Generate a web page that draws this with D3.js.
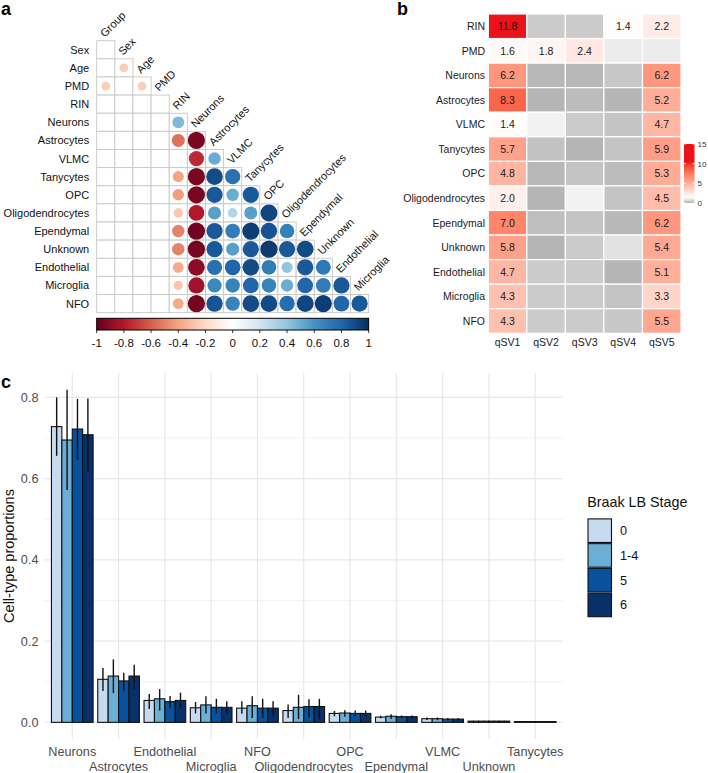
<!DOCTYPE html>
<html>
<head>
<meta charset="utf-8">
<script src="https://cdn.jsdelivr.net/npm/d3@7"></script>
<style>
  html, body { margin: 0; padding: 0; background: #fff; }
  svg { display: block; font-family: "Liberation Sans", Arial, Helvetica, sans-serif; }
</style>
</head>
<body>
<svg id="chart" width="708" height="773"></svg>
<script>
// ---------------- DATA ----------------
// Panel a: correlation matrix (lower triangle, null = not significant / blank)
const corrVars = ["Group","Sex","Age","PMD","RIN","Neurons","Astrocytes","VLMC","Tanycytes","OPC","Oligodendrocytes","Ependymal","Unknown","Endothelial","Microglia","NFO"];
const corrRowsValues = [
  /* Sex */        [null],
  /* Age */        [null, -0.25],
  /* PMD */        [-0.25, null, -0.25],
  /* RIN */        [null, null, null, null],
  /* Neurons */    [null, null, null, null, 0.45],
  /* Astrocytes */ [null, null, null, null, -0.55, -0.95],
  /* VLMC */       [null, null, null, null, null, -0.75, 0.5],
  /* Tanycytes */  [null, null, null, null, -0.4, -0.95, 0.9, 0.75],
  /* OPC */        [null, null, null, null, -0.42, -0.95, 0.85, 0.5, 0.85],
  /* Oligodend. */ [null, null, null, null, -0.28, -0.8, 0.55, 0.3, 0.55, 0.92],
  /* Ependymal */  [null, null, null, null, -0.5, -0.97, 0.85, 0.7, 0.95, 0.87, 0.68],
  /* Unknown */    [null, null, null, null, -0.5, -0.96, 0.85, 0.55, 0.85, 0.96, 0.85, 0.9],
  /* Endothelial */[null, null, null, null, -0.38, -0.9, 0.75, 0.8, 0.9, 0.7, 0.4, 0.85, 0.72],
  /* Microglia */  [null, null, null, null, -0.28, -0.85, 0.65, 0.67, 0.8, 0.67, 0.5, 0.8, 0.7, 0.85],
  /* NFO */        [null, null, null, null, -0.38, -0.96, 0.87, 0.67, 0.9, 0.9, 0.77, 0.92, 0.95, 0.8, 0.85]
];
const corrTicks = [-1,-0.8,-0.6,-0.4,-0.2,0,0.2,0.4,0.6,0.8,1];

// Panel b: -log10 p-values per qSV
const qsvRows = ["RIN","PMD","Neurons","Astrocytes","VLMC","Tanycytes","OPC","Oligodendrocytes","Ependymal","Unknown","Endothelial","Microglia","NFO"];
const qsvCols = ["qSV1","qSV2","qSV3","qSV4","qSV5"];
const qSV1 = [11.8, 1.6, 6.2, 8.3, 1.4, 5.7, 4.8, 2.0, 7.0, 5.8, 4.7, 4.3, 4.3];
const qSV2 = [0.45, 1.8, 0.14, 0.08, 1.1, 0.3, 0.14, 0.08, 0.26, 0.08, 0.45, 0.45, 0.45];
const qSV3 = [0.45, 2.4, 0.14, 0.2, 0.45, 0.08, 0.33, 1.1, 0.33, 0.45, 0.45, 0.45, 0.45];
const qSV4 = [1.4, 1.0, 0.39, 0.08, 0.33, 0.33, 0.2, 0.33, 0.14, 0.82, 0.08, 0.33, 0.39];
const qSV5 = [2.2, 1.0, 6.2, 5.2, 4.7, 5.9, 5.3, 4.5, 6.2, 5.4, 5.1, 3.3, 5.5];
const qsvLegendTicks = [0, 5, 10, 15];
const sigThreshold = 1.3;

// Panel c: cell-type proportions by Braak LB stage
const cellTypes = ["Neurons","Astrocytes","Endothelial","Microglia","NFO","Oligodendrocytes","OPC","Ependymal","VLMC","Unknown","Tanycytes"];
const stages = ["0","1-4","5","6"];
const mean0  = [0.728, 0.106, 0.054, 0.036, 0.035, 0.029, 0.022, 0.013, 0.009, 0.003, 0.002];
const mean14 = [0.695, 0.114, 0.058, 0.043, 0.041, 0.037, 0.023, 0.015, 0.009, 0.003, 0.002];
const mean5  = [0.722, 0.102, 0.051, 0.037, 0.035, 0.039, 0.022, 0.014, 0.008, 0.003, 0.002];
const mean6  = [0.708, 0.114, 0.054, 0.037, 0.035, 0.039, 0.022, 0.014, 0.008, 0.003, 0.002];
const lo0  = [0.656, 0.077, 0.033, 0.022, 0.021, 0.011, 0.015, 0.010, 0.006, 0.002, 0.001];
const hi0  = [0.800, 0.134, 0.070, 0.050, 0.052, 0.044, 0.028, 0.016, 0.012, 0.004, 0.003];
const lo14 = [0.572, 0.072, 0.029, 0.022, 0.011, 0.008, 0.014, 0.008, 0.006, 0.002, 0.001];
const hi14 = [0.819, 0.155, 0.082, 0.064, 0.064, 0.068, 0.030, 0.020, 0.012, 0.004, 0.003];
const lo5  = [0.646, 0.078, 0.036, 0.022, 0.011, 0.012, 0.015, 0.010, 0.005, 0.002, 0.001];
const hi5  = [0.796, 0.122, 0.065, 0.058, 0.058, 0.057, 0.029, 0.017, 0.011, 0.004, 0.003];
const lo6  = [0.617, 0.082, 0.036, 0.022, 0.015, 0.008, 0.015, 0.010, 0.005, 0.002, 0.001];
const hi6  = [0.797, 0.142, 0.073, 0.052, 0.052, 0.058, 0.029, 0.017, 0.011, 0.004, 0.003];
const yTicksC = [0, 0.2, 0.4, 0.6, 0.8];

// ---------------- DRAW ----------------
const svg = d3.select("#chart");
svg.append("rect").attr("width", 708).attr("height", 773).attr("fill", "#fff");

// panel letters
svg.append("text").attr("x", 1).attr("y", 15).text("a").attr("font-size", 18).attr("font-weight", "bold");
svg.append("text").attr("x", 397).attr("y", 15).text("b").attr("font-size", 18).attr("font-weight", "bold");
svg.append("text").attr("x", 1).attr("y", 388).text("c").attr("font-size", 18).attr("font-weight", "bold");

// ===== Panel a =====
(function(){
  const rows = corrVars.slice(1), cols = corrVars.slice(0, 15);
  const cs = 18.13, x0 = 96.7, y0 = 40.7;
  const xA = d3.scaleBand().domain(cols).range([x0, x0 + 15*cs]);
  const yA = d3.scaleBand().domain(rows).range([y0, y0 + 15*cs]);
  const rdbu = ["#67001F","#B2182B","#D6604D","#F4A582","#FDDBC7","#FFFFFF","#D1E5F0","#92C5DE","#4393C3","#2166AC","#053061"];
  const col = d3.scaleLinear().domain(corrTicks).range(rdbu).clamp(true);
  const rMax = 8.8;
  const rS = d3.scaleSqrt().domain([0, 1]).range([0, rMax]);
  const g = svg.append("g");
  const cells = [];
  rows.forEach((r, i) => { corrRowsValues[i].forEach((v, j) => cells.push({r, c: cols[j], v})); });
  g.selectAll("rect.cell").data(cells).join("rect").attr("class","cell")
    .attr("x", d => xA(d.c)).attr("y", d => yA(d.r))
    .attr("width", xA.bandwidth()).attr("height", yA.bandwidth())
    .attr("fill", "#fff").attr("stroke", "#c8c8c8").attr("stroke-width", 0.9);
  g.selectAll("circle").data(cells.filter(d => d.v !== null)).join("circle")
    .attr("cx", d => xA(d.c) + xA.bandwidth()/2).attr("cy", d => yA(d.r) + yA.bandwidth()/2)
    .attr("r", d => rS(Math.abs(d.v))).attr("fill", d => col(d.v));
  // row labels
  g.selectAll("text.rl").data(rows).join("text").attr("class","rl")
    .attr("x", x0 - 7.5).attr("y", d => yA(d) + yA.bandwidth()/2 + 4)
    .attr("text-anchor", "end").attr("font-size", 11).attr("fill", "#111").text(d => d);
  // column labels (rotated)
  g.selectAll("text.cl").data(cols).join("text").attr("class","cl")
    .attr("transform", (d, k) => `translate(${xA(d) + xA.bandwidth()/2 - 1},${y0 + k*cs - 3}) rotate(-45)`)
    .attr("font-size", 11).attr("fill", "#111").text(d => d);
  // colorbar
  const cbX = d3.scaleLinear().domain([-1, 1]).range([x0, x0 + 15*cs]);
  const defs = svg.append("defs");
  const grad = defs.append("linearGradient").attr("id", "rdbuGrad");
  corrTicks.forEach((t, i) => grad.append("stop").attr("offset", (i/10*100) + "%").attr("stop-color", rdbu[i]));
  g.append("rect").attr("x", cbX(-1)).attr("y", 318.3).attr("width", cbX(1) - cbX(-1)).attr("height", 11.7)
    .attr("fill", "url(#rdbuGrad)").attr("stroke", "#000").attr("stroke-width", 1);
  g.selectAll("line.cbt").data(corrTicks).join("line").attr("class","cbt")
    .attr("x1", d => cbX(d)).attr("x2", d => cbX(d)).attr("y1", 330).attr("y2", 333)
    .attr("stroke", "#000").attr("stroke-width", 0.8);
  g.selectAll("text.cbl").data(corrTicks).join("text").attr("class","cbl")
    .attr("x", d => cbX(d)).attr("y", 346.5).attr("text-anchor", "middle")
    .attr("font-size", 11.5).attr("fill", "#111").text(d => String(d));
})();

// ===== Panel b =====
(function(){
  const cols = [qSV1, qSV2, qSV3, qSV4, qSV5];
  const xB = d3.scaleBand().domain(qsvCols).range([488.3, 681]);
  const yB = d3.scaleBand().domain(qsvRows).range([14, 333.3]);
  const col = d3.scaleLinear().domain([0, sigThreshold, 10.5]).range(["#b0b0b0", "#ffffff", "#ec1318"]).interpolate(d3.interpolateLab).clamp(true);
  const cells = [];
  qsvCols.forEach((c, j) => qsvRows.forEach((r, i) => cells.push({r, c, v: cols[j][i]})));
  const g = svg.append("g");
  g.selectAll("rect").data(cells).join("rect")
    .attr("x", d => xB(d.c)).attr("y", d => yB(d.r))
    .attr("width", xB.bandwidth()).attr("height", yB.bandwidth())
    .attr("fill", d => col(d.v)).attr("stroke", "#fff").attr("stroke-width", 1.2);
  g.selectAll("text.v").data(cells.filter(d => d.v >= sigThreshold)).join("text").attr("class","v")
    .attr("x", d => xB(d.c) + xB.bandwidth()/2).attr("y", d => yB(d.r) + yB.bandwidth()/2 + 3.8)
    .attr("text-anchor", "middle").attr("font-size", 10.5).attr("fill", "#1a1a1a").text(d => d.v.toFixed(1));
  g.selectAll("text.rl").data(qsvRows).join("text").attr("class","rl")
    .attr("x", 485).attr("y", d => yB(d) + yB.bandwidth()/2 + 3.8).attr("text-anchor", "end")
    .attr("font-size", 10.5).attr("fill", "#1a1a1a").text(d => d);
  g.selectAll("text.cl").data(qsvCols).join("text").attr("class","cl")
    .attr("x", d => xB(d) + xB.bandwidth()/2).attr("y", 345.5).attr("text-anchor", "middle")
    .attr("font-size", 10.5).attr("fill", "#1a1a1a").text(d => d);
  // legend
  const ly = d3.scaleLinear().domain([0, 15]).range([203, 144]);
  const defs = svg.select("defs");
  const grad = defs.append("linearGradient").attr("id", "heatGrad").attr("x1", 0).attr("x2", 0).attr("y1", 1).attr("y2", 0);
  d3.range(0, 15.01, 0.5).forEach(v => grad.append("stop").attr("offset", (v/15*100) + "%").attr("stop-color", col(v)));
  g.append("rect").attr("x", 684).attr("y", ly(15)).attr("width", 10.5).attr("height", ly(0) - ly(15)).attr("fill", "url(#heatGrad)");
  qsvLegendTicks.forEach(t => {
    g.append("line").attr("x1", 684).attr("x2", 686).attr("y1", ly(t)).attr("y2", ly(t)).attr("stroke", "#fff").attr("stroke-width", 0.8);
    g.append("line").attr("x1", 692.5).attr("x2", 694.5).attr("y1", ly(t)).attr("y2", ly(t)).attr("stroke", "#fff").attr("stroke-width", 0.8);
    g.append("text").attr("x", 697.5).attr("y", ly(t) + 3).attr("font-size", 8).attr("fill", "#333").text(t);
  });
})();

// ===== Panel c =====
(function(){
  const means = [mean0, mean14, mean5, mean6], los = [lo0, lo14, lo5, lo6], his = [hi0, hi14, hi5, hi6];
  const fills = ["#C6DBEF", "#6BAED6", "#08519C", "#08306B"];
  const left = 44.5, right = 563, top = 373, bottom = 739;
  const maxV = d3.max(his.flat());
  const pad = maxV * 0.05;
  const y = d3.scaleLinear().domain([-pad, maxV + pad]).range([bottom, top]);
  const x = d3.scalePoint().domain(cellTypes).range([left, right]).padding(0.6);
  const step = x.step();
  const xs = d3.scaleBand().domain(stages).range([-0.45*step, 0.45*step]);
  const g = svg.append("g");
  // grid
  const minor = [0.1, 0.3, 0.5, 0.7];
  g.selectAll("line.gmin").data(minor).join("line").attr("x1", left).attr("x2", right)
    .attr("y1", d => y(d)).attr("y2", d => y(d)).attr("stroke", "#ededed").attr("stroke-width", 0.7);
  g.selectAll("line.gy").data(yTicksC).join("line").attr("x1", left).attr("x2", right)
    .attr("y1", d => y(d)).attr("y2", d => y(d)).attr("stroke", "#e8e8e8").attr("stroke-width", 1.2);
  g.selectAll("line.gx").data(cellTypes).join("line").attr("x1", d => x(d)).attr("x2", d => x(d))
    .attr("y1", top).attr("y2", bottom).attr("stroke", "#e8e8e8").attr("stroke-width", 1.2);
  // bars
  const bars = [];
  cellTypes.forEach((c, i) => stages.forEach((s, k) => bars.push({c, s, k, m: means[k][i], lo: los[k][i], hi: his[k][i]})));
  g.selectAll("rect.bar").data(bars).join("rect").attr("class","bar")
    .attr("x", d => x(d.c) + xs(d.s)).attr("width", xs.bandwidth())
    .attr("y", d => y(d.m)).attr("height", d => y(0) - y(d.m))
    .attr("fill", d => fills[d.k]).attr("stroke", "#111").attr("stroke-width", 1.1);
  g.selectAll("line.err").data(bars).join("line").attr("class","err")
    .attr("x1", d => x(d.c) + xs(d.s) + xs.bandwidth()/2).attr("x2", d => x(d.c) + xs(d.s) + xs.bandwidth()/2)
    .attr("y1", d => y(d.lo)).attr("y2", d => y(d.hi)).attr("stroke", "#111").attr("stroke-width", 1.4);
  // y axis labels
  g.selectAll("text.yt").data(yTicksC).join("text").attr("class","yt")
    .attr("x", 38.5).attr("y", d => y(d) + 4.5).attr("text-anchor", "end")
    .attr("font-size", 12.7).attr("fill", "#4d4d4d").text(d => d.toFixed(1));
  // x axis labels (two rows)
  g.selectAll("text.xt").data(cellTypes).join("text").attr("class","xt")
    .attr("x", d => x(d)).attr("y", (d, i) => i % 2 === 0 ? 755.5 : 770.5).attr("text-anchor", "middle")
    .attr("font-size", 12.7).attr("fill", "#4d4d4d").text(d => d);
  // y title
  g.append("text").attr("transform", `translate(13.5,${(top+bottom)/2}) rotate(-90)`).attr("text-anchor", "middle")
    .attr("font-size", 14.5).attr("fill", "#111").text("Cell-type proportions");
  // legend
  g.append("text").attr("x", 587.3).attr("y", 507).attr("font-size", 14.3).attr("fill", "#111").text("Braak LB Stage");
  const ky = d3.scaleBand().domain(stages).range([518.3, 617.3]);
  g.selectAll("rect.key").data(stages).join("rect").attr("class","key")
    .attr("x", 588).attr("y", d => ky(d) + 0.6).attr("width", 23.5).attr("height", ky.bandwidth() - 1.2)
    .attr("fill", (d, i) => fills[i]).attr("stroke", "#111").attr("stroke-width", 1.1);
  g.selectAll("text.kl").data(stages).join("text").attr("class","kl")
    .attr("x", 620).attr("y", d => ky(d) + ky.bandwidth()/2 + 4.5)
    .attr("font-size", 12.7).attr("fill", "#111").text(d => d);
})();
</script>
</body>
</html>
